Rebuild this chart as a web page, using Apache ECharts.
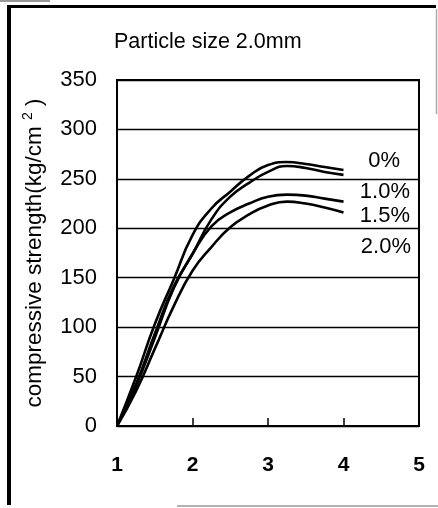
<!DOCTYPE html>
<html>
<head>
<meta charset="utf-8">
<script src="https://cdn.jsdelivr.net/npm/echarts@6/dist/echarts.min.js"></script>
<style>
  html, body { margin: 0; padding: 0; background: #fff; }
  #chart { width: 438px; height: 508px; }
</style>
</head>
<body>
<div id="chart"></div>
<script>
const titleText = 'Particle size 2.0mm';
const seriesNames = ['0%', '1.0%', '1.5%', '2.0%'];

const s0 = [[1, 0], [1.25, 49], [1.5, 103], [1.75, 148], [2, 193], [2.25, 220], [2.5, 237],
  [2.75, 253], [3, 264], [3.25, 267], [3.5, 265], [3.75, 262], [4, 259]];
const s1 = [[1, 0], [1.25, 42], [1.5, 93], [1.75, 141], [2, 174], [2.25, 209], [2.5, 232],
  [2.75, 246], [3, 257], [3.25, 263], [3.5, 261], [3.75, 257], [4, 254]];
const s2 = [[1, 0], [1.25, 40], [1.5, 89], [1.75, 139], [2, 174], [2.25, 202], [2.5, 216],
  [2.75, 225], [3, 232], [3.25, 234], [3.5, 233], [3.75, 230], [4, 227]];
const s3 = [[1, 0], [1.25, 35], [1.5, 78], [1.75, 121], [2, 157], [2.25, 181], [2.5, 201],
  [2.75, 214], [3, 223], [3.25, 227], [3.5, 225], [3.75, 221], [4, 216]];
const seriesData = [s0, s1, s2, s3];

// where the series names sit at the right of the plot
const labelPos = [[400, 161], [410, 192], [410, 216], [411, 247]];

const chart = echarts.init(document.getElementById('chart'));

const font = 'Liberation Sans, Arial, sans-serif';

const option = {
  animation: false,
  title: {
    text: titleText,
    left: 114,
    top: 31,
    padding: 0,
    textStyle: { fontFamily: font, fontSize: 21.5, fontWeight: 'normal', color: '#000' }
  },
  grid: {
    left: 117, right: 19, top: 80, bottom: 82,
    show: true, borderColor: '#000', borderWidth: 2
  },
  xAxis: {
    type: 'value',
    min: 1, max: 5, interval: 1,
    axisLine: { show: true, lineStyle: { color: '#000', width: 2 } },
    axisTick: { show: true, inside: true, length: 8, lineStyle: { color: '#000', width: 1.5 } },
    splitLine: { show: false },
    axisLabel: { margin: 29, fontFamily: font, fontSize: 21, fontWeight: 'bold', color: '#000' }
  },
  yAxis: {
    type: 'value',
    min: 0, max: 350, interval: 50,
    name: '{a|compressive strength(kg/cm }{s|2}{a| )}',
    nameLocation: 'middle',
    nameGap: 69,
    nameRotate: 90,
    nameTextStyle: {
      color: '#000',
      rich: {
        a: { fontFamily: font, fontSize: 22.5, color: '#000', lineHeight: 27 },
        s: { fontFamily: font, fontSize: 14, color: '#000', verticalAlign: 'top', lineHeight: 27, padding: [0, 0, 12, 0] }
      }
    },
    axisLine: { show: true, lineStyle: { color: '#000', width: 2 } },
    axisTick: { show: false },
    splitLine: { show: true, lineStyle: { color: '#000', width: 1.3 } },
    axisLabel: { margin: 20, fontFamily: font, fontSize: 22, color: '#000' }
  },
  series: seriesData.map((d, i) => ({
    name: seriesNames[i],
    type: 'line',
    data: d,
    smooth: 0.5,
    symbol: 'none',
    lineStyle: { color: '#000', width: 2.6 }
  })),
  graphic: [
    // scanned page frame
    { type: 'line', shape: { x1: 9, y1: 5, x2: 9, y2: 505 }, style: { stroke: '#000', lineWidth: 4 } },
    { type: 'line', shape: { x1: 7, y1: 6.5, x2: 436, y2: 6.5 }, style: { stroke: '#000', lineWidth: 3 } },
    { type: 'line', shape: { x1: 436.5, y1: 9, x2: 436.5, y2: 114 }, style: { stroke: '#aaa', lineWidth: 1.5 } },
    { type: 'line', shape: { x1: 0, y1: 1, x2: 50, y2: 1 }, style: { stroke: '#999', lineWidth: 2 } },
    { type: 'line', shape: { x1: 177, y1: 506, x2: 438, y2: 506 }, style: { stroke: '#999', lineWidth: 1.5 } }
  ].concat(seriesNames.map((n, i) => ({
    type: 'text',
    x: labelPos[i][0],
    y: labelPos[i][1],
    style: {
      text: n, fill: '#000', font: '22px ' + font,
      align: 'right', verticalAlign: 'middle'
    }
  })))
};

chart.setOption(option);
</script>
</body>
</html>
